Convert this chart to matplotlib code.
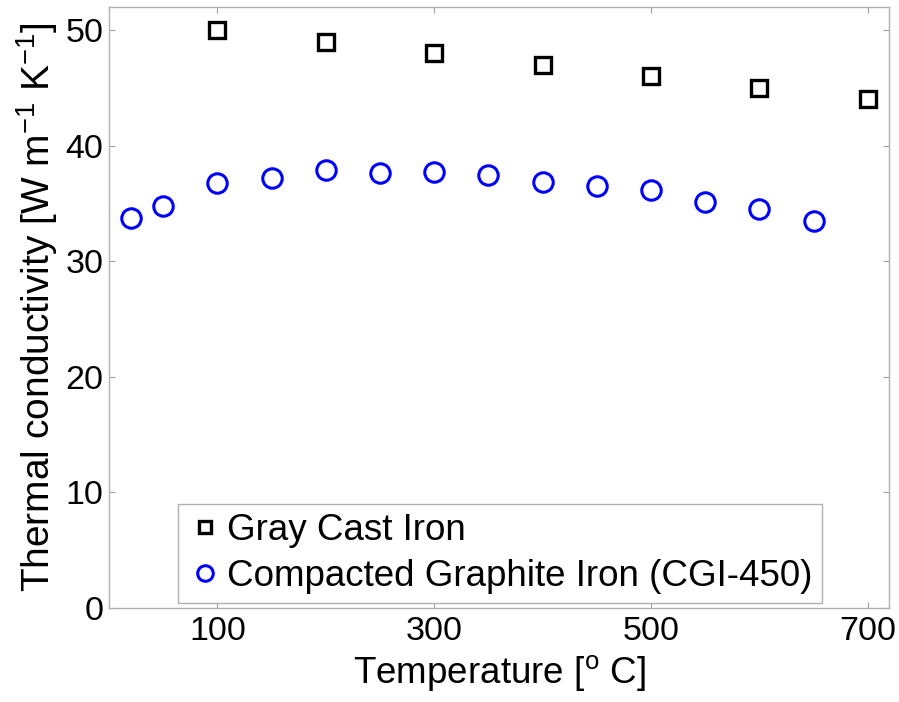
import numpy as np
import matplotlib.pyplot as plt

plt.rcParams['font.family'] = ['Liberation Sans', 'DejaVu Sans']
plt.rcParams['mathtext.default'] = 'regular'

gray_temp = [100, 200, 300, 400, 500, 600, 700]
gray_k = [50, 49, 48, 47, 46, 45, 44]

cgi_temp = [20, 50, 100, 150, 200, 250, 300, 350, 400, 450, 500, 550, 600, 650]
cgi_k = [33.7, 34.8, 36.8, 37.2, 37.9, 37.6, 37.7, 37.5, 36.9, 36.5, 36.2, 35.1, 34.5, 33.5]

xticks = [100, 300, 500, 700]
yticks = [0, 10, 20, 30, 40, 50]

fig = plt.figure(figsize=(8.99, 7.02), dpi=100)
ax = fig.add_axes([0.1213, 0.134, 0.868, 0.856])

ax.plot(gray_temp, gray_k, 's', ms=11.5, mfc='none', mec='black', mew=2.4,
        label='Gray Cast Iron')
ax.plot(cgi_temp, cgi_k, 'o', ms=14, mfc='none', mec='#0000ff', mew=2.2,
        label='Compacted Graphite Iron (CGI-450)')

ax.set_xlim(0, 720)
ax.set_ylim(0, 52)
ax.set_xticks(xticks)
ax.set_yticks(yticks)

for s in ax.spines.values():
    s.set_color('#b0b0b0')
    s.set_linewidth(1.0)
ax.tick_params(direction='in', length=4, width=0.8, color='#a0a0a0',
               labelsize=24.5, top=True, right=True)
ax.tick_params(axis='x', pad=6)
ax.tick_params(axis='y', pad=4)

ax.set_xlabel('Temperature [$^{o}$ C]', fontsize=26.5, labelpad=4)
ax.set_ylabel('Thermal conductivity [W m$^{-1}$ K$^{-1}$]', fontsize=28, labelpad=4)

leg = ax.legend(loc='lower left', bbox_to_anchor=(0.088, 0.008), borderaxespad=0,
                fontsize=26.5, fancybox=False, framealpha=1, edgecolor='#b0b0b0',
                handletextpad=0.1, handlelength=1.0, markerscale=0.8,
                borderpad=0.25, labelspacing=0.3)
leg.get_frame().set_linewidth(1.0)

fig.savefig('out.png', dpi=100)
